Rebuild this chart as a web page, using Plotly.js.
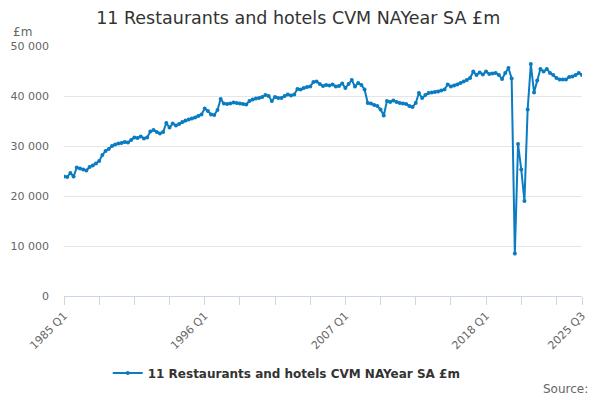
<!DOCTYPE html>
<html>
<head>
<meta charset="utf-8">
<script src="https://cdn.plot.ly/plotly-3.0.1.min.js"></script>
<style>
  html, body { margin: 0; padding: 0; background: #fff; }
  #chart { width: 600px; height: 400px; }
</style>
</head>
<body>
<div id="chart"></div>
<script>
// quarterly values, £m (thousands), 1985 Q1 .. 2025 Q3
var values = [
	23.9, 23.8, 24.6, 23.9,
	25.7, 25.5, 25.3, 25.1,
	25.8, 26.1, 26.5, 27.0,
	28.2, 29.0, 29.4, 30.0,
	30.3, 30.5, 30.6, 30.8,
	30.7, 31.2, 31.7, 31.6,
	31.9, 31.5, 31.7, 32.9,
	33.2, 32.8, 32.5, 32.8,
	34.6, 33.7, 34.5, 34.1,
	34.4, 34.8, 35.1, 35.3,
	35.5, 35.7, 36.0, 36.3,
	37.5, 37.0, 36.3, 36.2,
	37.2, 39.4, 38.5, 38.4,
	38.5, 38.7, 38.6, 38.5,
	38.4, 38.3, 39.0, 39.3,
	39.5, 39.6, 39.8, 40.2,
	40.0, 39.0, 39.8, 39.6,
	39.6, 40.0, 40.3, 40.1,
	40.3, 41.4, 41.3, 41.6,
	41.8, 41.9, 42.8, 42.9,
	42.4, 42.0, 42.2, 42.1,
	42.3, 41.9, 42.0, 42.5,
	41.6, 42.4, 43.2, 41.9,
	42.6, 42.2, 41.3, 38.6,
	38.5, 38.2, 38.0, 37.3,
	36.1, 39.0, 38.8, 39.1,
	38.8, 38.6, 38.5, 38.4,
	38.0, 37.8, 38.6, 40.6,
	39.6, 40.2, 40.6, 40.7,
	40.8, 40.9, 41.1, 41.3,
	42.3, 41.9, 42.1, 42.3,
	42.6, 42.9, 43.2, 43.6,
	44.9, 44.2, 44.7, 44.3,
	44.9, 44.4, 44.5, 44.6,
	44.2, 43.4, 44.6, 45.6,
	43.5, 8.5, 30.4, 25.3,
	19.0, 37.3, 46.4, 40.7,
	43.1, 45.4, 44.9, 45.4,
	44.6, 44.2, 43.6, 43.3,
	43.3, 43.3, 43.8, 43.9,
	44.2, 44.6, 44.2
];
var firstYear = 1985;
var tickLabels = ['1985 Q1', '1996 Q1', '2007 Q1', '2018 Q1', '2025 Q3'];
var seriesName = '11 Restaurants and hotels CVM NAYear SA £m';

function drawChart() {
	var quarters = [];
	var y = [];
	for (var i = 0; i < values.length; i++) {
		var yr = firstYear + Math.floor(i / 4);
		quarters.push(yr + ' Q' + (i % 4 + 1));
		y.push(Math.round(values[i] * 1000));
	}

	// tick marks every 11 quarters plus the last one, labels only on some
	var tickVals = [];
	var tickText = [];
	for (var k = 0; k < quarters.length; k += 11) {
		tickVals.push(quarters[k]);
	}
	tickVals.push(quarters[quarters.length - 1]);
	tickVals.forEach(function(q) {
		tickText.push(tickLabels.indexOf(q) >= 0 ? q : '');
	});

	var trace = {
		x: quarters,
		y: y,
		type: 'scatter',
		mode: 'lines+markers',
		name: seriesName,
		line: { color: '#0a7cc1', width: 2 },
		marker: { color: '#0a7cc1', size: 4 },
		hoverinfo: 'x+y'
	};

	var layout = {
		width: 600,
		height: 400,
		margin: { l: 64, r: 18, t: 46, b: 102 },
		font: { family: 'DejaVu Sans, sans-serif', color: '#666', size: 11 },
		separators: '. ',
		paper_bgcolor: '#fff',
		plot_bgcolor: '#fff',
		title: {
			text: seriesName,
			font: { size: 17.5, color: '#333' },
			xref: 'container',
			x: 0.497,
			xanchor: 'center',
			y: 0.955,
			yanchor: 'middle'
		},
		xaxis: {
			type: 'category',
			range: [0, values.length - 1],
			tickmode: 'array',
			tickvals: tickVals,
			ticktext: tickText,
			tickangle: -45,
			ticks: 'outside',
			ticklen: 8,
			tickcolor: '#ccd6eb',
			showline: true,
			linecolor: '#ccd6eb',
			showgrid: false,
			zeroline: false,
			automargin: false,
			tickfont: { size: 11, color: '#666' }
		},
		yaxis: {
			range: [0, 50000],
			dtick: 10000,
			tickformat: ',d',
			showgrid: true,
			gridcolor: '#e6e6e6',
			zeroline: false,
			showline: false,
			ticks: '',
			ticklabelstandoff: 14,
			automargin: false,
			tickfont: { size: 11, color: '#666' }
		},
		showlegend: true,
		legend: {
			orientation: 'h',
			x: 0.43,
			xanchor: 'center',
			y: -0.25,
			yanchor: 'top',
			font: { size: 12, color: '#333', weight: 'bold' }
		},
		annotations: [{
			text: '£m',
			xref: 'paper', yref: 'paper',
			x: -0.103, y: 1.056,
			xanchor: 'left', yanchor: 'middle',
			showarrow: false,
			font: { size: 12, color: '#666' }
		}, {
			text: 'Source:',
			xref: 'paper', yref: 'paper',
			x: 1.015, y: -0.37,
			xanchor: 'right', yanchor: 'middle',
			showarrow: false,
			font: { size: 12, color: '#666' }
		}]
	};

	Plotly.newPlot('chart', [trace], layout, { displayModeBar: false, staticPlot: true });
}

window.onload = drawChart;
</script>
</body>
</html>
